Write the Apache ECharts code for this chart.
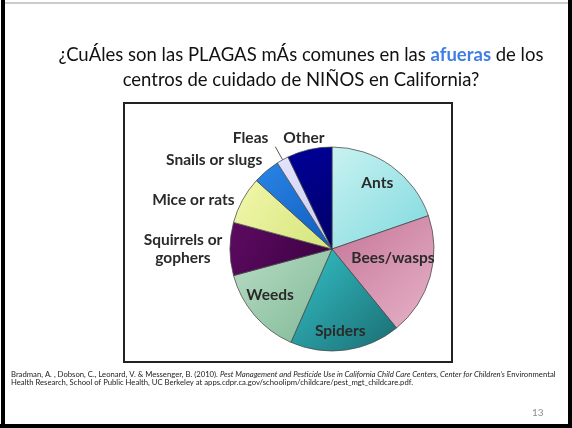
<!DOCTYPE html>
<html>
<head>
<meta charset="utf-8">
<script src="https://cdn.jsdelivr.net/npm/echarts@6/dist/echarts.min.js"></script>
<style>
  html, body { margin: 0; padding: 0; background: #fff; }
  #chart { width: 572px; height: 428px; }
</style>
</head>
<body>
<div id="chart"></div>
<script>
// plagas en las afueras (porcentaje aprox.)
var categories = ['Ants', 'Bees/wasps', 'Spiders', 'Weeds', 'Squirrels or\ngophers', 'Mice or rats', 'Snails or slugs', 'Fleas', 'Other'];
var shares = [19.7, 19.4, 17.5, 14.2, 8.4, 7.5, 4.3, 1.9, 7.1];

// colores de cada rebanada [claro, oscuro]
var sliceColors = [
  ['#c9f2f1', '#7fd9df'],
  ['#c57497', '#e6b3c8'],
  ['#34c2c8', '#1a6d72'],
  ['#b8dcc4', '#7fb896'],
  ['#5e0b62', '#3a0040'],
  ['#f2f7ac', '#d4e47a'],
  ['#2a86e6', '#0f5cc0'],
  ['#e4e4ff', '#c8c8f0'],
  ['#00009a', '#000066']
];
var insideLabels = [true, true, true, true, false, false, false, false, false];
// ajuste fino de etiquetas [dx, dy, align]
var labelShift = [[14, -22], [9, -6], [1, 28], [-21, 11], [-42, 0, 'center'], [-3, 0], [1, -11], [-2, -9], [20, -12]];

var chart = echarts.init(document.getElementById('chart'));

var pieData = categories.map(function (name, i) {
  return {
    name: name,
    value: shares[i],
    itemStyle: {
      color: {
        type: 'linear', x: 0, y: 0, x2: 1, y2: 1,
        colorStops: [
          { offset: 0, color: sliceColors[i][0] },
          { offset: 1, color: sliceColors[i][1] }
        ]
      }
    },
    label: { position: insideLabels[i] ? 'inside' : 'outside' },
    labelLine: {
      show: name === 'Fleas',
      length: name === 'Fleas' ? 15 : 0,
      length2: 0
    }
  };
});

chart.setOption({
  animation: false,
  title: [
    {
      text: '¿CuÁles son las PLAGAS mÁs comunes en las {b|afueras} de los\ncentros de cuidado de NIÑOS en California?',
      left: 296,
      top: 37,
      textAlign: 'center',
      textStyle: {
        fontFamily: 'Lato',
        fontSize: 18.5,
        fontWeight: 'normal',
        color: '#111',
        lineHeight: 25.5,
        rich: {
          b: { fontFamily: 'Lato', fontSize: 18.5, fontWeight: 'bold', color: '#3f7fe4', lineHeight: 25.5 }
        }
      }
    },
    {
      text: 'Bradman, A. , Dobson, C., Leonard, V. & Messenger, B. (2010). {i|Pest Management and Pesticide Use in California Child Care Centers, Center for Children’s} Environmental\nHealth Research, School of Public Health, UC Berkeley at apps.cdpr.ca.gov/schoolipm/childcare/pest_mgt_childcare.pdf.',
      left: 6,
      top: 365,
      textStyle: {
        fontFamily: 'Lato',
        fontSize: 7.7,
        fontWeight: 'normal',
        color: '#222',
        lineHeight: 8.5,
        rich: {
          i: { fontFamily: 'Lato', fontSize: 7.7, fontStyle: 'italic', color: '#222', lineHeight: 8.5 }
        }
      }
    },
    {
      text: '13',
      left: 527,
      top: 403,
      textStyle: { fontFamily: 'Lato', fontSize: 10, fontWeight: 'normal', color: '#8c8c8c' }
    }
  ],
  graphic: [
    // marco de la diapositiva
    { type: 'rect', shape: { x: 1, y: 0, width: 4, height: 428 }, style: { fill: '#000' } },
    { type: 'rect', shape: { x: 568, y: 0, width: 4, height: 428 }, style: { fill: '#000' } },
    { type: 'rect', shape: { x: 0, y: 424, width: 572, height: 4 }, style: { fill: '#000' } },
    { type: 'rect', shape: { x: 5, y: 2.5, width: 563, height: 1 }, style: { fill: '#999' } },
    // recuadro del grafico
    { type: 'rect', shape: { x: 124, y: 103, width: 328, height: 259 }, style: { fill: 'none', stroke: '#222', lineWidth: 2 } }
  ],
  series: [
    {
      type: 'pie',
      center: [332, 249],
      radius: 102,
      startAngle: 90,
      clockwise: true,
      avoidLabelOverlap: false,
      data: pieData,
      itemStyle: { borderColor: 'rgba(70,70,70,0.75)', borderWidth: 1 },
      label: {
        fontFamily: 'Lato',
        fontSize: 15.5,
        fontWeight: 'bold',
        color: '#2a2a2a',
        lineHeight: 18
      },
      labelLine: { lineStyle: { color: '#555', width: 1 }, smooth: 0.4 },
      labelLayout: function (params) {
        var s = labelShift[params.dataIndex];
        var out = { dx: s[0], dy: s[1] };
        if (s[2]) out.align = s[2];
        return out;
      },
      emphasis: { disabled: true }
    }
  ]
});
</script>
</body>
</html>
